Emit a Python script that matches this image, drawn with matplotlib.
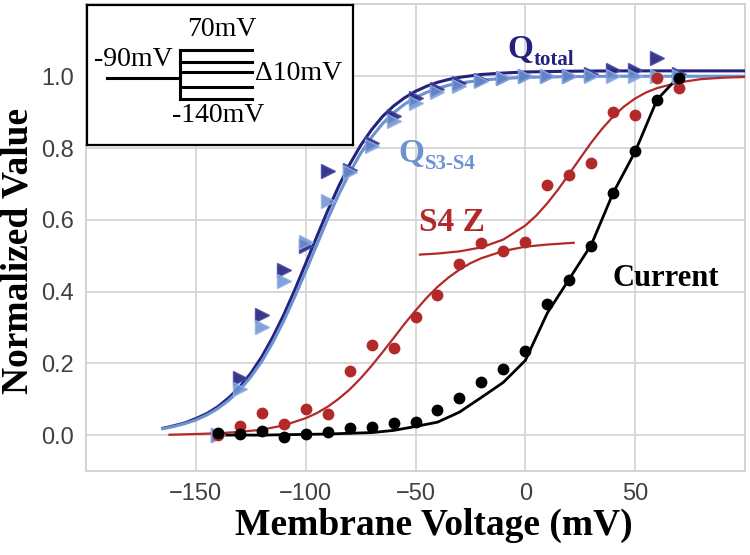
import matplotlib
matplotlib.use('Agg')
import matplotlib.pyplot as plt

# ---- data ----
volt = [-140, -130, -120, -110, -100, -90, -80, -70, -60, -50, -40,
        -30, -20, -10, 0, 10, 20, 30, 40, 50, 60, 70]
q_total = [0.0, 0.16, 0.335, 0.46, 0.527, 0.735, 0.74, 0.815, 0.89, 0.94, 0.965,
           0.98, 0.99, 0.995, 1.0, 1.0, 1.0, 1.005, 1.017, 1.017, 1.05, 1.005]
q_s3s4 = [0.0, 0.128, 0.30, 0.43, 0.537, 0.652, 0.733, 0.805, 0.875, 0.925, 0.955,
          0.974, 0.987, 0.995, 1.0, 1.0, 1.0, 1.0, 1.0, 1.0, 1.0, 1.0]
s4z = [0.0, 0.025, 0.062, 0.03, 0.072, 0.058, 0.178, 0.25, 0.243, 0.329, 0.391,
       0.478, 0.534, 0.512, 0.539, 0.697, 0.725, 0.758, 0.90, 0.891, 0.996, 0.967]
current = [0.006, 0.004, 0.011, -0.006, 0.002, 0.009, 0.019, 0.022, 0.035, 0.037, 0.069,
           0.104, 0.147, 0.183, 0.235, 0.364, 0.431, 0.528, 0.676, 0.793, 0.935, 0.994]

# fitted curves
fit_v = [-165, -160, -155, -150, -145, -140, -135, -130, -125, -120, -115, -110,
         -105, -100, -95, -90, -85, -80, -75, -70, -65, -60, -55, -50, -45, -40,
         -35, -30, -20, -10, 0, 20, 40, 60, 80, 100]
fit_qtotal = [0.019, 0.026, 0.034, 0.046, 0.060, 0.079, 0.104, 0.134, 0.172, 0.218,
              0.273, 0.335, 0.404, 0.478, 0.552, 0.625, 0.693, 0.754, 0.807, 0.851,
              0.888, 0.917, 0.940, 0.958, 0.972, 0.983, 0.991, 0.997, 1.005, 1.009,
              1.012, 1.014, 1.015, 1.015, 1.015, 1.015]
fit_qs3s4 = [0.018, 0.024, 0.032, 0.042, 0.056, 0.074, 0.097, 0.126, 0.162, 0.205,
             0.258, 0.318, 0.385, 0.456, 0.529, 0.602, 0.670, 0.731, 0.785, 0.830,
             0.868, 0.898, 0.922, 0.941, 0.955, 0.966, 0.975, 0.981, 0.989, 0.994,
             0.997, 0.999, 1.0, 1.0, 1.0, 1.0]
s4z_fit1_v = [-162, -150, -140, -130, -120, -110, -100, -95, -90, -85, -80, -75, -70,
              -65, -60, -55, -50, -45, -40, -35, -30, -25, -20, -10, 0, 10, 22]
s4z_fit1 = [0.001, 0.003, 0.005, 0.009, 0.015, 0.027, 0.047, 0.061, 0.079, 0.101,
            0.127, 0.158, 0.193, 0.231, 0.270, 0.310, 0.347, 0.382, 0.413, 0.439,
            0.461, 0.479, 0.493, 0.513, 0.525, 0.531, 0.536]
s4z_fit2_v = [-48, -40, -30, -20, -10, 0, 5, 10, 15, 20, 25, 30, 35, 40, 45, 50,
              55, 60, 70, 80, 90, 100]
s4z_fit2 = [0.503, 0.506, 0.512, 0.523, 0.545, 0.584, 0.612, 0.646, 0.685, 0.728,
            0.772, 0.815, 0.854, 0.888, 0.916, 0.938, 0.955, 0.967, 0.983, 0.992,
            0.996, 0.998]
current_fit = [0.0, 0.0, 0.0, 0.001, 0.002, 0.003, 0.005, 0.007, 0.013, 0.024, 0.036,
               0.064, 0.105, 0.147, 0.208, 0.34, 0.435, 0.53, 0.675, 0.79, 0.935, 1.0]

xticks = [-150, -100, -50, 0, 50]
yticks = [0.0, 0.2, 0.4, 0.6, 0.8, 1.0]

c_dark = '#23237f'
c_light = '#6c92d2'
c_red = '#b3292a'
serif = ['Liberation Serif', 'DejaVu Serif']
tickfont = ['Liberation Sans Narrow', 'Liberation Sans', 'DejaVu Sans']

fig = plt.figure(figsize=(7.5, 5.55), dpi=100)
ax = fig.add_axes([0.1147, 0.1514, 0.8786, 0.8405])

# fits
ax.plot(fit_v, fit_qtotal, color=c_dark, lw=2.2, zorder=3)
ax.plot(fit_v, fit_qs3s4, color=c_light, lw=2.2, zorder=3)
ax.plot(s4z_fit1_v, s4z_fit1, color=c_red, lw=1.6, zorder=3)
ax.plot(s4z_fit2_v, s4z_fit2, color=c_red, lw=1.6, zorder=3)
ax.plot(volt, current_fit, color='black', lw=2.0, zorder=3)

# data
ax.plot(volt, q_total, '>', color=c_dark, ms=10, alpha=0.9, mec='#4a4aa8', zorder=4)
ax.plot(volt, q_s3s4, '>', color=c_light, ms=10, alpha=0.85, mec='#8fb0e3', zorder=4)
ax.plot(volt, s4z, 'o', color=c_red, ms=8.5, mec='none', zorder=4)
ax.plot(volt, current, 'o', color='black', ms=8.5, mec='none', zorder=4)

ax.set_xlim(-200, 100)
ax.set_ylim(-0.1, 1.2)
ax.set_xticks(xticks)
ax.set_yticks(yticks)
ax.set_xticklabels(['\u2212150', '\u2212100', '\u221250', '0', '50'])
ax.set_yticklabels(['%.1f' % t for t in yticks])
for lab in ax.get_xticklabels() + ax.get_yticklabels():
    lab.set_family(tickfont)
    lab.set_fontsize(17)
    lab.set_color('#404040')
ax.tick_params(length=0, pad=9)
ax.grid(True, color='#d2d2d2', lw=1.2)
ax.set_axisbelow(True)
for sp in ax.spines.values():
    sp.set_color('#d2d2d2')
    sp.set_linewidth(1.4)

ax.set_xlabel('Membrane Voltage (mV)', family=serif, fontsize=27, fontweight='bold')
ax.xaxis.set_label_coords(0.528, -0.116)
ax.xaxis.label.set_va('center')
ax.set_ylabel('Normalized Value', family=serif, fontsize=27, fontweight='bold')
ax.yaxis.set_label_coords(-0.103, 0.472)
ax.yaxis.label.set_va('center')

# curve labels
def sub_label(x, y, main, sub, color):
    t = ax.text(x, y, main, family=serif, fontsize=24, fontweight='bold',
                color=color, va='baseline', ha='left', zorder=5)
    ax.annotate(sub, xy=(1.0, 0.0), xycoords=t, family=serif, fontsize=15,
                fontweight='bold', color=color, va='baseline', ha='left', zorder=5)

sub_label(-8.2, 1.052, 'Q', 'total', c_dark)
sub_label(-57.7, 0.762, 'Q', 'S3-S4', c_light)
ax.text(-48.4, 0.57, 'S4 Z', family=serif, fontsize=24, fontweight='bold',
        color=c_red, va='baseline', zorder=5)
ax.text(39.6, 0.416, 'Current', family=serif, fontsize=22, fontweight='bold',
        color='black', va='baseline', zorder=5)

# stimulus protocol inset
ins = fig.add_axes([87 / 750, 1 - 145 / 555, 266 / 750, 140 / 555], zorder=10)
ins.set_xlim(0, 266)
ins.set_ylim(140, 0)
ins.set_xticks([])
ins.set_yticks([])
for sp in ins.spines.values():
    sp.set_color('black')
    sp.set_linewidth(1.6)
ins.plot([20, 93], [73, 73], color='black', lw=2.2)
ins.plot([93, 93], [45, 94], color='black', lw=2.2)
for yy in [45, 57, 67, 82, 94]:
    ins.plot([93, 165], [yy, yy], color='black', lw=2.2)
ins.text(135, 24, '70mV', family=serif, fontsize=20, ha='center', va='center')
ins.text(46, 55, '-90mV', family=serif, fontsize=20, ha='center', va='center')
ins.text(168, 68, '\u039410mV', family=serif, fontsize=20, ha='left', va='center')
ins.text(131, 111, '-140mV', family=serif, fontsize=20, ha='center', va='center')

fig.savefig('out.png', dpi=100)
